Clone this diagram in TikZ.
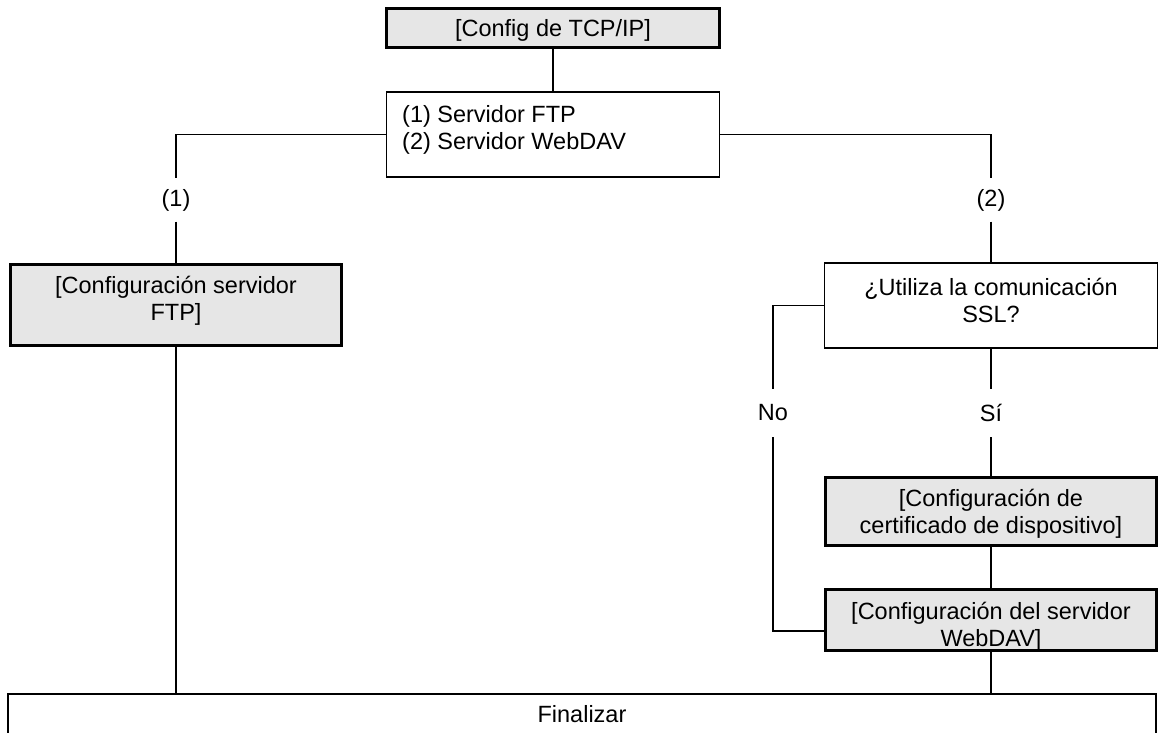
\documentclass[tikz,border=0pt]{standalone}
\usepackage{fontspec}
\setmainfont{Liberation Sans}
\definecolor{boxgray}{RGB}{230,230,230}
\begin{document}
\begin{tikzpicture}[x=1pt,y=-1pt, font=\fontsize{23.5}{27}\selectfont,
  thinbox/.style={draw, line width=1.2pt, inner sep=0pt},
  thickbox/.style={draw, line width=3pt, fill=boxgray, inner sep=0pt},
  txt/.style={inner sep=0pt, align=center},
  lbl/.style={inner sep=0pt, minimum height=43pt},
  conn/.style={line width=1.2pt}]
\useasboundingbox (0,0) rectangle (1159,733);
% boxes
\node[thickbox, minimum width=333pt, minimum height=39pt] (top) at (553,28) {};
\node[thinbox, minimum width=333pt, minimum height=85pt] (srv) at (553,134.5) {};
\node[thickbox, minimum width=331pt, minimum height=81pt] (ftp) at (176,305) {};
\node[thinbox, minimum width=333pt, minimum height=85pt] (ssl) at (991,305.5) {};
\node[thickbox, minimum width=331pt, minimum height=68pt] (cert) at (991,511.5) {};
\node[thickbox, minimum width=331pt, minimum height=61pt] (wdav) at (991,620) {};
\node[thinbox, minimum width=1148pt, minimum height=40pt] (fin) at (582,714) {};
% box texts
\node[txt] (topt) at (553,30.9) {[Config de TCP/IP]};
\node[txt, align=left, anchor=west] (srvt) at (402,130) {(1) Servidor FTP\\(2) Servidor WebDAV};
\node[txt] (ftpt) at (176,300.5) {[Configuración servidor\\FTP]};
\node[txt] (sslt) at (991,300) {¿Utiliza la comunicación\\SSL?};
\node[txt] (certt) at (991,514) {[Configuración de\\certificado de dispositivo]};
\node[txt] (wdavt) at (991,626.4) {[Configuración del servidor\\WebDAV]};
\node[txt] (fint) at (582,714.5) {Finalizar};
% labels
\node[lbl] (l1) at (176,200) {(1)};
\node[lbl] (l2) at (991,200) {(2)};
\node[lbl, minimum height=48pt] (lno) at (773,413) {No};
\node[lbl, minimum height=48pt] (lsi) at (991,413) {Sí};
% connectors
\draw[conn] (top) -- (srv);
\draw[conn] (srv.west) -| (l1.north);
\draw[conn] (l1) -- (ftp);
\draw[conn] (srv.east) -| (l2.north);
\draw[conn] (l2) -- (ssl);
\draw[conn] (ssl.west) -| (lno.north);
\draw[conn] (lno.south) |- ([yshift=-11pt]wdav.west);
\draw[conn] (ssl) -- (lsi);
\draw[conn] (lsi) -- (cert);
\draw[conn] (cert) -- (wdav);
\draw[conn] (wdav.south) -- (wdav.south |- fin.north);
\draw[conn] (ftp.south) -- (ftp.south |- fin.north);
\end{tikzpicture}
\end{document}
